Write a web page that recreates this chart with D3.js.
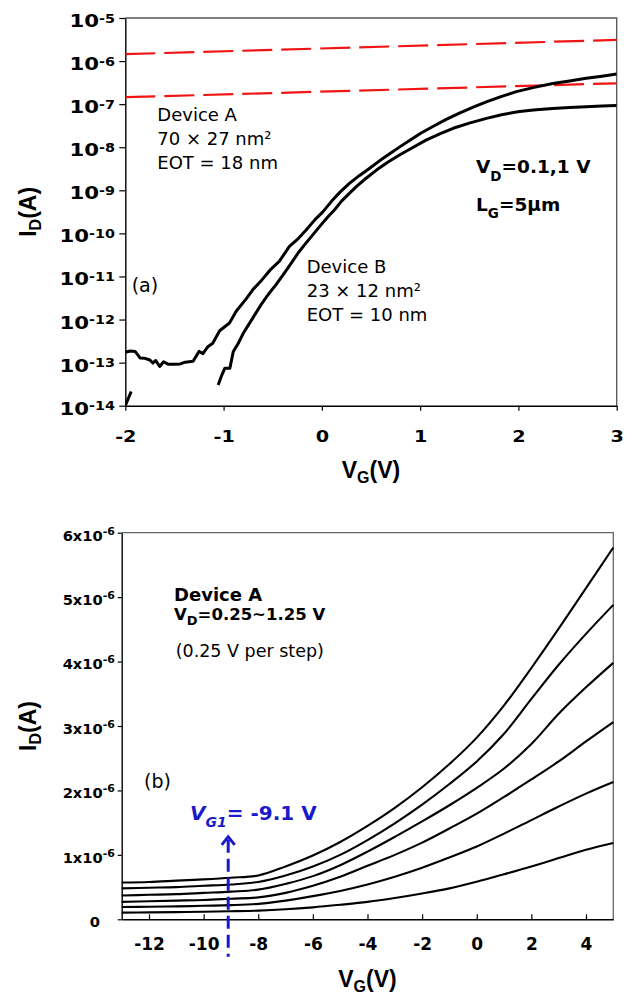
<!DOCTYPE html>
<html>
<head>
<meta charset="utf-8">
<script src="https://cdn.jsdelivr.net/npm/d3@7"></script>
<style>
body { margin: 0; background: #fff; }
svg text { font-family: "DejaVu Sans", sans-serif; fill: #000; }
.title { font-family: "Liberation Sans", Arial, sans-serif !important; font-weight: bold; }
</style>
</head>
<body>
<script>
// ---------- panel (a): log ID vs VG ----------
var aTicksX = [-2, -1, 0, 1, 2, 3];
var aTicksY = [1e-14, 1e-13, 1e-12, 1e-11, 1e-10, 1e-9, 1e-8, 1e-7, 1e-6, 1e-5];

// red dashed lines (two end points each)
var redVG = [-2, 3];
var redUpperID = [1.45e-6, 3.1e-6];
var redLowerID = [1.45e-7, 3.05e-7];

// black curves, log10(ID)
var curve1VG = [-2.0,-1.95,-1.90,-1.85,-1.80,-1.75,-1.72,-1.69,-1.65,-1.61,-1.56,-1.50,-1.44,-1.39,-1.31,-1.25,-1.21,-1.16,-1.11,-1.04,-0.94,-0.87,-0.77,-0.70,-0.61,-0.53,-0.43,-0.33,-0.24,-0.16,-0.07,0.01,0.10,0.19,0.28,0.38,0.49,0.59,0.69,0.80,0.90,1.01,1.13,1.26,1.40,1.54,1.68,1.83,1.98,2.16,2.35,2.52,2.69,2.85,3.0];
var curve1LogID = [-12.76,-12.73,-12.74,-12.89,-12.90,-12.94,-13.01,-12.95,-13.09,-12.98,-13.04,-13.04,-13.03,-12.99,-12.97,-12.74,-12.79,-12.63,-12.55,-12.26,-12.08,-11.80,-11.52,-11.30,-11.08,-10.86,-10.64,-10.30,-10.12,-9.92,-9.68,-9.50,-9.25,-9.03,-8.84,-8.66,-8.48,-8.31,-8.15,-7.98,-7.83,-7.67,-7.52,-7.36,-7.21,-7.07,-6.94,-6.82,-6.71,-6.61,-6.52,-6.46,-6.40,-6.35,-6.30];

var curve2VG = [-1.055,-1.02,-0.987,-0.936,-0.902,-0.85,-0.80,-0.74,-0.68,-0.62,-0.55,-0.47,-0.40,-0.32,-0.24,-0.16,-0.08,0.00,0.06,0.13,0.20,0.28,0.353,0.45,0.556,0.67,0.79,0.93,1.065,1.20,1.336,1.50,1.675,1.84,2.01,2.18,2.35,2.52,2.69,2.85,3.0];
var curve2LogID = [-13.52,-13.30,-13.13,-13.13,-12.75,-12.55,-12.32,-12.10,-11.88,-11.66,-11.43,-11.20,-10.98,-10.72,-10.45,-10.22,-10.00,-9.78,-9.62,-9.45,-9.25,-9.07,-8.91,-8.72,-8.53,-8.35,-8.18,-8.00,-7.83,-7.69,-7.56,-7.44,-7.33,-7.24,-7.17,-7.13,-7.10,-7.08,-7.06,-7.04,-7.03];

// short piece of curve 2 near VG = -2
var curve2LowVG = [-2.0, -1.94];
var curve2LowLogID = [-14.0, -13.67];

// ---------- panel (b): linear ID vs VG ----------
var bTicksX = [-12, -10, -8, -6, -4, -2, 0, 2, 4];
var bTicksY = [0, 1e-6, 2e-6, 3e-6, 4e-6, 5e-6, 6e-6];
var bVG = [-13,-12,-11,-10,-9,-8,-7,-6,-5,-4,-3,-2,-1,0,1,2,3,4,5];
// ID in microamps, lowest curve first
var bID1 = [0.104,0.108,0.112,0.118,0.125,0.135,0.155,0.185,0.225,0.27,0.33,0.40,0.48,0.584,0.70,0.82,0.95,1.08,1.185];
var bID2 = [0.19,0.195,0.20,0.21,0.22,0.24,0.29,0.36,0.44,0.54,0.66,0.80,0.96,1.13,1.33,1.54,1.75,1.95,2.13];
var bID3 = [0.27,0.28,0.29,0.30,0.32,0.34,0.41,0.52,0.66,0.83,1.00,1.19,1.41,1.64,1.90,2.17,2.45,2.76,3.06];
var bID4 = [0.37,0.38,0.39,0.41,0.43,0.46,0.55,0.67,0.84,1.05,1.28,1.52,1.77,2.04,2.34,2.72,3.19,3.60,3.98];
var bID5 = [0.48,0.49,0.50,0.52,0.54,0.58,0.68,0.82,1.00,1.23,1.49,1.78,2.10,2.45,2.88,3.42,3.95,4.43,4.88];
var bID6 = [0.57,0.58,0.60,0.62,0.645,0.68,0.82,0.99,1.20,1.45,1.73,2.05,2.41,2.82,3.32,3.90,4.51,5.14,5.77];

var vg1 = -9.1, arrowTopID = 1.28e-6, arrowBottomID = -0.58e-6;

var svg = d3.select("body").append("svg")
    .attr("width", 634)
    .attr("height", 996);

var blue = "#1a1ac8";

function zip(xs, ys) { return xs.map(function(x, i) { return [x, ys[i]]; }); }

// ================= panel (a) =================
var xA = d3.scaleLinear().domain([-2, 3]).range([125.3, 616.7]);
var yA = d3.scaleLog().domain([1e-14, 1e-5]).range([405.7, 18]);

svg.append("clipPath").attr("id", "clipA").append("rect")
    .attr("x", xA(-2)).attr("y", yA(1e-5))
    .attr("width", xA(3) - xA(-2)).attr("height", yA(1e-14) - yA(1e-5));

// frame (top + right)
svg.append("path")
    .attr("d", "M" + xA(-2) + "," + yA(1e-5) + "H" + xA(3) + "V" + yA(1e-14))
    .attr("fill", "none").attr("stroke", "#555").attr("stroke-width", 1.3);

var gxA = svg.append("g")
    .attr("transform", "translate(0," + yA(1e-14) + ")")
    .call(d3.axisBottom(xA).tickValues(aTicksX).tickSize(5).tickSizeOuter(0)
        .tickFormat(function(d) { return String(d); }));
gxA.selectAll("text")
    .attr("y", 36).attr("dy", 0)
    .attr("transform", "scale(1.2,1)")
    .style("font-size", "16px").style("font-weight", "bold");

var gyA = svg.append("g")
    .attr("transform", "translate(" + xA(-2) + ",0)")
    .call(d3.axisLeft(yA).tickValues(aTicksY).tickSize(6).tickSizeOuter(0).tickFormat(""));
gyA.selectAll(".tick text").each(function(d) {
    var t = d3.select(this).text(null).attr("x", null).attr("dy", null)
        .attr("text-anchor", "end")
        .attr("transform", "translate(-10.3,8.5) scale(1.25,1)")
        .style("font-size", "17px").style("font-weight", "bold");
    t.append("tspan").text("10");
    t.append("tspan").attr("dy", -4.5).style("font-size", "11.5px")
        .text(String(Math.round(Math.log10(d))));
});

[gxA, gyA].forEach(function(g) {
    g.select(".domain").attr("stroke", "#000").attr("stroke-width", 1.4);
    g.selectAll(".tick line").attr("stroke", "#000").attr("stroke-width", 1.2);
});

var lineA = d3.line()
    .x(function(d) { return xA(d[0]); })
    .y(function(d) { return yA(d[1]); });
var lineALog = d3.line()
    .x(function(d) { return xA(d[0]); })
    .y(function(d) { return yA(Math.pow(10, d[1])); });

var plotA = svg.append("g").attr("clip-path", "url(#clipA)");

[redUpperID, redLowerID].forEach(function(ids) {
    plotA.append("path")
        .attr("d", lineA(zip(redVG, ids)))
        .attr("fill", "none").attr("stroke", "#f01414")
        .attr("stroke-width", 2.2).attr("stroke-dasharray", "30,9");
});

[[curve1VG, curve1LogID], [curve2VG, curve2LogID], [curve2LowVG, curve2LowLogID]].forEach(function(c) {
    plotA.append("path")
        .attr("d", lineALog(zip(c[0], c[1])))
        .attr("fill", "none").attr("stroke", "#000")
        .attr("stroke-width", 3).attr("stroke-linejoin", "round");
});

// text annotations (a)
function lines(x, y0, step, arr, size, weight) {
    arr.forEach(function(s, i) {
        svg.append("text").attr("x", x).attr("y", y0 + i * step)
            .style("font-size", size + "px").style("font-weight", weight || "normal")
            .text(s);
    });
}
lines(157.3, 120.7, 24, ["Device A", "70 \u00d7 27 nm\u00b2", "EOT = 18 nm"], 18);
lines(306.7, 272.7, 24, ["Device B", "23 \u00d7 12 nm\u00b2", "EOT = 10 nm"], 18);
lines(131.7, 291.7, 0, ["(a)"], 19);

function subText(x, y, main, sub, rest, size, subSize, subDy, color) {
    var t = svg.append("text").attr("x", x).attr("y", y)
        .style("font-size", size + "px").style("font-weight", "bold");
    if (color) t.style("fill", color);
    t.append("tspan").text(main);
    t.append("tspan").attr("dy", subDy).style("font-size", subSize + "px").text(sub);
    t.append("tspan").attr("dy", -subDy).text(rest);
    return t;
}
subText(476, 173, "V", "D", "=0.1,1 V", 18.5, 13.5, 7.5);
subText(476, 211, "L", "G", "=5\u03bcm", 18.5, 13.5, 6.5);

// axis titles
function yTitle(cy) {
    var t = svg.append("text").attr("class", "title")
        .attr("transform", "translate(36," + cy + ") rotate(-90)")
        .attr("text-anchor", "middle").style("font-size", "23px");
    t.append("tspan").text("I");
    t.append("tspan").attr("dy", 5).style("font-size", "16px").text("D");
    t.append("tspan").attr("dy", -5).text("(A)");
}
function xTitle(cx, y) {
    var t = svg.append("text").attr("class", "title")
        .attr("x", cx).attr("y", y)
        .attr("text-anchor", "middle").style("font-size", "23px");
    t.append("tspan").text("V");
    t.append("tspan").attr("dy", 5).style("font-size", "16px").text("G");
    t.append("tspan").attr("dy", -5).text("(V)");
}
yTitle((yA(1e-5) + yA(1e-14)) / 2);
xTitle((xA(-2) + xA(3)) / 2, 478);

// ================= panel (b) =================
var xB = d3.scaleLinear().domain([-13, 5]).range([121.7, 613.3]);
var yB = d3.scaleLinear().domain([0, 6e-6]).range([919.3, 532.7]);

svg.append("path")
    .attr("d", "M" + xB(-13) + "," + yB(6e-6) + "H" + xB(5) + "V" + yB(0))
    .attr("fill", "none").attr("stroke", "#666").attr("stroke-width", 1.3);

var gxB = svg.append("g")
    .attr("transform", "translate(0," + yB(0) + ")")
    .call(d3.axisBottom(xB).tickValues(bTicksX).tickSize(-5).tickSizeOuter(0)
        .tickFormat(function(d) { return String(d); }));
gxB.selectAll("text")
    .attr("y", 30.7).attr("dy", 0)
    .style("font-size", "17px").style("font-weight", "bold");

var gyB = svg.append("g")
    .attr("transform", "translate(" + xB(-13) + ",0)")
    .call(d3.axisLeft(yB).tickValues(bTicksY).tickSize(4).tickSizeOuter(0).tickFormat(""));
gyB.selectAll(".tick text").each(function(d) {
    var k = Math.round(d * 1e6);
    var t = d3.select(this).text(null).attr("dy", null)
        .attr("text-anchor", "end")
        .attr("x", k === 0 ? -21.7 : -6.7).attr("y", 7.3)
        .style("font-size", "14.7px").style("font-weight", "bold");
    if (k === 0) { t.text("0"); return; }
    t.append("tspan").text(k + "x10");
    t.append("tspan").attr("dy", -6).style("font-size", "11px").text("-6");
});

[gxB, gyB].forEach(function(g) {
    g.select(".domain").attr("stroke", "#000").attr("stroke-width", 1.4);
    g.selectAll(".tick line").attr("stroke", "#000").attr("stroke-width", 1.2);
});

var lineB = d3.line()
    .curve(d3.curveCatmullRom.alpha(0.5))
    .x(function(d) { return xB(d[0]); })
    .y(function(d) { return yB(d[1] * 1e-6); });

[bID1, bID2, bID3, bID4, bID5, bID6].forEach(function(ids) {
    svg.append("path")
        .attr("d", lineB(zip(bVG, ids)))
        .attr("fill", "none").attr("stroke", "#000").attr("stroke-width", 2.1);
});

// V_G1 arrow
var ax = xB(vg1), aTop = yB(arrowTopID);
svg.append("line")
    .attr("x1", ax).attr("x2", ax)
    .attr("y1", aTop + 3).attr("y2", yB(arrowBottomID))
    .attr("stroke", blue).attr("stroke-width", 3).attr("stroke-dasharray", "13,6");
svg.append("path")
    .attr("d", "M" + (ax - 6.5) + "," + (aTop + 8) + "L" + ax + "," + aTop + "L" + (ax + 6.5) + "," + (aTop + 8))
    .attr("fill", "none").attr("stroke", blue).attr("stroke-width", 3)
    .attr("stroke-linejoin", "miter");

var vt = svg.append("text").attr("x", 190).attr("y", 820)
    .style("font-size", "20px").style("font-weight", "bold").style("fill", blue);
vt.append("tspan").style("font-style", "italic").text("V");
vt.append("tspan").attr("dy", 7).style("font-style", "italic").style("font-size", "14px").text("G1");
vt.append("tspan").attr("dy", -7).text("= -9.1 V");

// text annotations (b)
lines(174, 600.7, 0, ["Device A"], 18, "bold");
subText(174, 620, "V", "D", "=0.25~1.25 V", 16.5, 13, 5);
lines(175.7, 657, 0, ["(0.25 V per step)"], 17.5);
lines(144, 788, 0, ["(b)"], 19);

yTitle((yB(0) + yB(6e-6)) / 2);
xTitle((xB(-13) + xB(5)) / 2, 987);
</script>
</body>
</html>
